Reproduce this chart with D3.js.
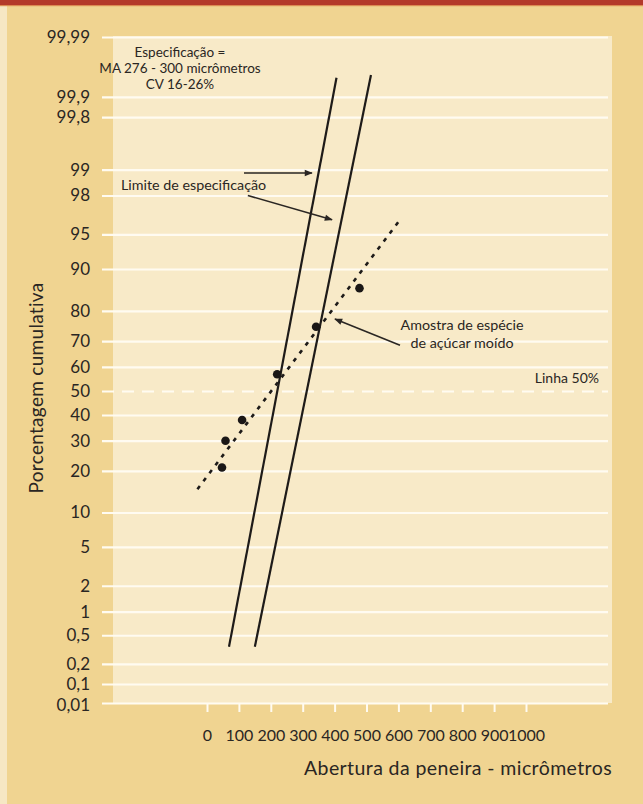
<!DOCTYPE html>
<html>
<head>
<meta charset="utf-8">
<script src="https://cdn.jsdelivr.net/npm/d3@7"></script>
<style>
  html, body { margin: 0; padding: 0; background: #f0d491; }
  svg { display: block; }
  text { font-family: Lato, "Open Sans", sans-serif; fill: #2a2623; }
</style>
</head>
<body>
<svg id="chart" width="643" height="804"></svg>
<script>
// Sieve apertures (micrometres) shown along the bottom axis
const xTicks = [0, 100, 200, 300, 400, 500, 600, 700, 800, 900, 1000];

// Cumulative percentage grid (normal probability paper)
const yTicks = [99.99, 99.9, 99.8, 99, 98, 95, 90, 80, 70, 60, 50, 40, 30, 20, 10, 5, 2, 1, 0.5, 0.2, 0.1, 0.01];
const yTickLabels = ["99,99", "99,9", "99,8", "99", "98", "95", "90", "80", "70", "60", "50", "40", "30", "20", "10", "5", "2", "1", "0,5", "0,2", "0,1", "0,01"];

// Ground sugar sample: aperture vs cumulative %
const sampleAperture = [47, 58, 110, 220, 342, 478];
const samplePercent = [21, 30, 38, 57, 75, 86];

// Fitted line through the sample (dotted)
const fitAperture = [-30, 608];
const fitPercent = [15, 96.5];

// Specification limit lines
const limitLowAperture = [69, 406];
const limitLowPercent = [0.35, 99.95];
const limitHighAperture = [150, 514];
const limitHighPercent = [0.35, 99.955];

// Inverse standard normal CDF (Acklam's rational approximation)
function probit(p) {
  const a = [-3.969683028665376e+01, 2.209460984245205e+02, -2.759285104469687e+02, 1.383577518672690e+02, -3.066479806614716e+01, 2.506628277459239e+00];
  const b = [-5.447609879822406e+01, 1.615858368580409e+02, -1.556989798598866e+02, 6.680131188771972e+01, -1.328068155288572e+01];
  const c = [-7.784894002430293e-03, -3.223964580411365e-01, -2.400758277161838e+00, -2.549732539343734e+00, 4.374664141464968e+00, 2.938163982698783e+00];
  const d = [7.784695709041462e-03, 3.224671290700398e-01, 2.445134137142996e+00, 3.754408661907416e+00];
  const pl = 0.02425, ph = 1 - pl;
  if (p < pl) {
    const q = Math.sqrt(-2 * Math.log(p));
    return (((((c[0]*q+c[1])*q+c[2])*q+c[3])*q+c[4])*q+c[5]) / ((((d[0]*q+d[1])*q+d[2])*q+d[3])*q+1);
  }
  if (p <= ph) {
    const q = p - 0.5, r = q * q;
    return (((((a[0]*r+a[1])*r+a[2])*r+a[3])*r+a[4])*r+a[5])*q / (((((b[0]*r+b[1])*r+b[2])*r+b[3])*r+b[4])*r+1);
  }
  const q = Math.sqrt(-2 * Math.log(1 - p));
  return -(((((c[0]*q+c[1])*q+c[2])*q+c[3])*q+c[4])*q+c[5]) / ((((d[0]*q+d[1])*q+d[2])*q+d[3])*q+1);
}
const z = pct => probit(pct / 100);

const W = 643, H = 804;
const panel = { left: 113, right: 612, top: 36, bottom: 703 };
const gridLeft = 102, gridRight = 608;

const x = d3.scaleLinear().domain([0, 1000]).range([207, 526]);
// probability scale; the 0.01 tail is squeezed against the bottom edge
const y = d3.scaleLinear()
  .domain([z(0.01), z(0.1), z(50), z(99.99)])
  .range([panel.bottom, 684, 391, 37]);

const svg = d3.select("#chart");

// page background, left light strip and top band
svg.append("rect").attr("width", W).attr("height", H).attr("fill", "#f0d491");
svg.append("rect").attr("width", 7).attr("height", H).attr("fill", "#f6e7c4");
svg.append("rect").attr("width", W).attr("height", 5).attr("fill", "#b4392a");
svg.append("rect").attr("y", 5).attr("width", W).attr("height", 1.2).attr("fill", "#dc8a52");

// plotting panel
svg.append("rect")
  .attr("x", panel.left).attr("y", panel.top)
  .attr("width", panel.right - panel.left).attr("height", panel.bottom - panel.top)
  .attr("fill", "#f8eac8");

// y axis: white grid lines with labels
const yAxis = d3.axisLeft(y)
  .tickValues(yTicks.map(z))
  .tickFormat((d, i) => yTickLabels[i])
  .tickSize(-(gridRight - gridLeft))
  .tickPadding(12);
const gy = svg.append("g").attr("transform", `translate(${gridLeft},0)`).call(yAxis);
gy.select(".domain").remove();
gy.selectAll(".tick line").attr("stroke", "#fffbf1").attr("stroke-width", 2.2)
  .attr("stroke-dasharray", (d, i) => yTicks[i] === 50 ? "12 8" : null);
gy.selectAll(".tick text")
  .attr("font-family", "Lato, sans-serif").attr("font-size", 17).attr("fill", "#2a2623")
  .attr("dy", (d, i) => yTicks[i] === 0.01 ? "0.42em" : "0.32em");

// x axis: short white ticks below the panel
const xAxis = d3.axisBottom(x).tickValues(xTicks).tickSize(9).tickPadding(18).tickFormat(d3.format("d"));
const gx = svg.append("g").attr("transform", `translate(0,${panel.bottom})`).call(xAxis);
gx.select(".domain").remove();
gx.selectAll(".tick line").attr("stroke", "#fffbf1").attr("stroke-width", 2);
gx.selectAll(".tick text")
  .attr("font-family", "'Liberation Sans Narrow', 'DejaVu Sans Condensed', Lato, sans-serif")
  .attr("font-size", 16).attr("fill", "#2a2623");

// axis titles
svg.append("text")
  .attr("transform", "translate(43,388) rotate(-90)")
  .attr("text-anchor", "middle").attr("font-size", 19).attr("letter-spacing", 0.3)
  .text("Porcentagem cumulativa");
svg.append("text")
  .attr("x", 612).attr("y", 775).attr("text-anchor", "end").attr("font-size", 19.5)
  .attr("letter-spacing", 0.4)
  .text("Abertura da peneira - micrômetros");

const line = d3.line().x(d => x(d[0])).y(d => y(z(d[1])));

// specification limits
[[limitLowAperture, limitLowPercent], [limitHighAperture, limitHighPercent]].forEach(([ap, pc]) => {
  svg.append("path")
    .attr("d", line(d3.zip(ap, pc)))
    .attr("fill", "none").attr("stroke", "#1e1b19").attr("stroke-width", 2.2);
});

// fitted sample line
svg.append("path")
  .attr("d", line(d3.zip(fitAperture, fitPercent)))
  .attr("fill", "none").attr("stroke", "#1e1b19").attr("stroke-width", 2.6)
  .attr("stroke-dasharray", "4 6");

// sample points
svg.append("g").selectAll("circle")
  .data(d3.zip(sampleAperture, samplePercent))
  .join("circle")
  .attr("cx", d => x(d[0])).attr("cy", d => y(z(d[1])))
  .attr("r", 4.3).attr("fill", "#1a1716");

// arrow marker
svg.append("defs").append("marker")
  .attr("id", "arrow").attr("viewBox", "0 0 10 10")
  .attr("refX", 9).attr("refY", 5)
  .attr("markerUnits", "userSpaceOnUse")
  .attr("markerWidth", 9).attr("markerHeight", 8)
  .attr("orient", "auto")
  .append("path").attr("d", "M0,1 L10,5 L0,9 Z").attr("fill", "#2a2623");

// annotation arrows, in aperture / percent units
const arrows = [
  [[116, 98.9], [329, 98.9]],
  [[128, 98.0], [392, 96.4]],
  [[605, 68.5], [401, 77.5]]
];
svg.append("g").selectAll("path")
  .data(arrows)
  .join("path")
  .attr("d", d => line(d))
  .attr("fill", "none").attr("stroke", "#2a2623").attr("stroke-width", 1.6)
  .attr("marker-end", "url(#arrow)");

// annotations
const note = (tx, ty, anchor, str, size) => svg.append("text")
  .attr("x", tx).attr("y", ty).attr("text-anchor", anchor)
  .attr("font-size", size).attr("fill", "#2f2a26").text(str);

note(180, 57, "middle", "Especificação =", 13.5);
note(180, 73, "middle", "MA 276 - 300 micrômetros", 13.5);
note(180, 89, "middle", "CV 16-26%", 13.5);
note(121, 190, "start", "Limite de especificação", 14.3);
note(462, 330, "middle", "Amostra de espécie", 14.3);
note(462, 348, "middle", "de açúcar moído", 14.3);
note(599, 383, "end", "Linha 50%", 14);
</script>
</body>
</html>
